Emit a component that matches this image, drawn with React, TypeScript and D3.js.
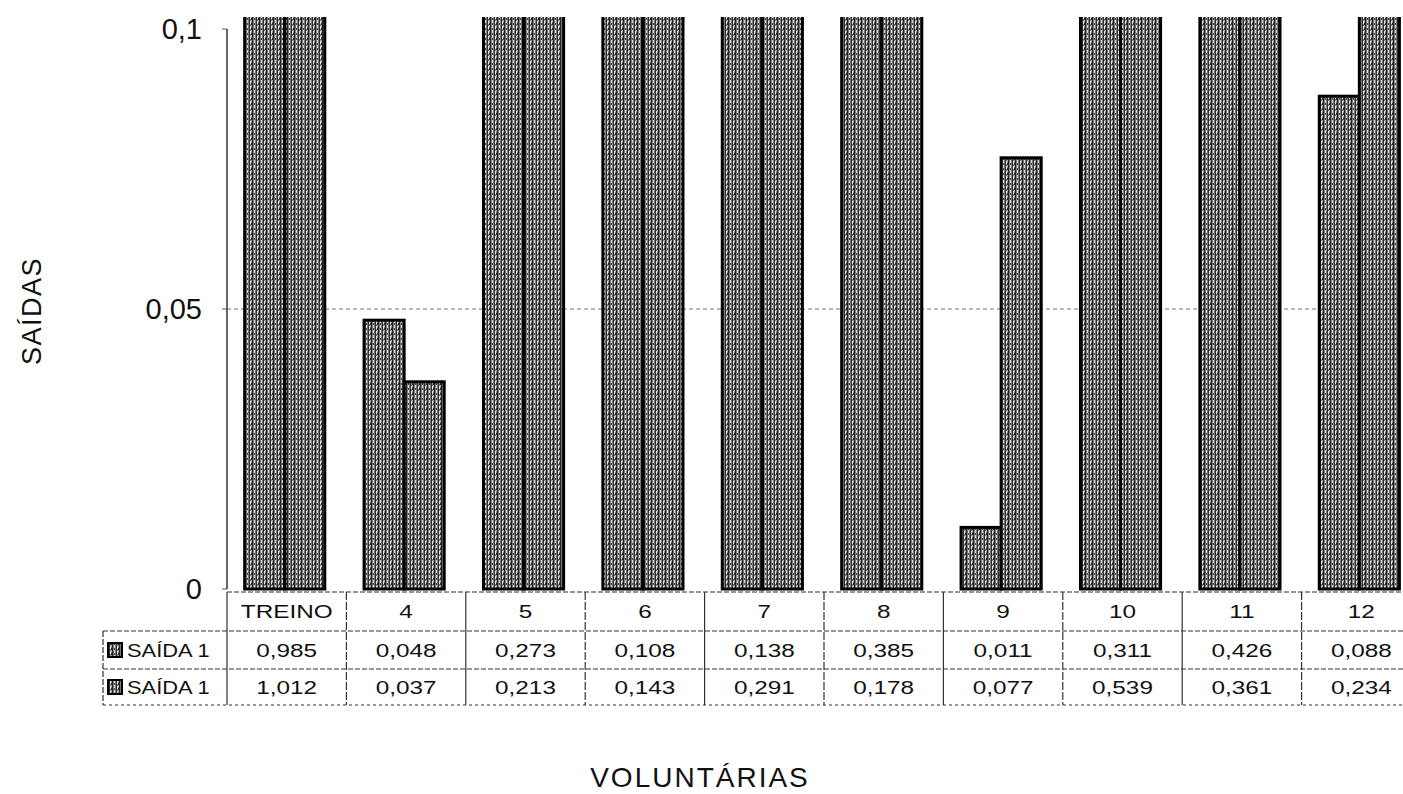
import React from "react";
import * as d3 from "d3";

const categories = ["TREINO", "4", "5", "6", "7", "8", "9", "10", "11", "12"];
const seriesNames = ["SAÍDA 1", "SAÍDA 1"];
const saida1a = [0.985, 0.048, 0.273, 0.108, 0.138, 0.385, 0.011, 0.311, 0.426, 0.088];
const saida1b = [1.012, 0.037, 0.213, 0.143, 0.291, 0.178, 0.077, 0.539, 0.361, 0.234];
const yTicks = [0, 0.05, 0.1];
const yTickLabels = ["0", "0,05", "0,1"];
const tableA = ["0,985", "0,048", "0,273", "0,108", "0,138", "0,385", "0,011", "0,311", "0,426", "0,088"];
const tableB = ["1,012", "0,037", "0,213", "0,143", "0,291", "0,178", "0,077", "0,539", "0,361", "0,234"];

const W = 1403;
const H = 794;
const FONT = "'Liberation Sans', Arial, sans-serif";

export default function App() {
  const x0 = d3.scaleBand<string>().domain(categories).range([227, 1421]).paddingInner(0).paddingOuter(0);
  const x1 = d3
    .scaleBand<string>()
    .domain(["a", "b"])
    .range([0, x0.bandwidth()])
    .paddingInner(0)
    .paddingOuter(0.49)
    .align(0.45);
  const y = d3.scaleLinear().domain([0, 0.1]).range([589, 29]);
  const series = [saida1a, saida1b];
  const keys = ["a", "b"];

  const rowTop = 592;
  const rowH = [39, 38, 36];
  const rowY = [rowTop, rowTop + rowH[0], rowTop + rowH[0] + rowH[1], rowTop + rowH[0] + rowH[1] + rowH[2]];
  const tableLeft = 103;
  const plotLeft = 227;

  const cellText = (txt: string, cx: number, cy: number, key: string, anchor = "middle") => (
    <g key={key} transform={`translate(${cx},${cy}) scale(1.28,1)`}>
      <text x={0} y={0} textAnchor={anchor} dominantBaseline="central" fontSize={19} fontFamily={FONT} fill="#111">
        {txt}
      </text>
    </g>
  );

  return (
    <svg
      width={W}
      height={H}
      viewBox={`0 0 ${W} ${H}`}
      style={{ position: "absolute", left: 0, top: 0, background: "#fff", overflow: "hidden" }}
    >
      <defs>
        <pattern id="dither" width="7" height="5" patternUnits="userSpaceOnUse">
          <rect width="7" height="5" fill="#7a7a7a" />
          <rect x="0" y="0" width="1" height="5" fill="#222" />
          <rect x="2" y="0" width="1" height="3" fill="#dcdcdc" />
          <rect x="2" y="3" width="1" height="2" fill="#444" />
          <rect x="4" y="0" width="1" height="5" fill="#2e2e2e" />
          <rect x="5" y="1" width="1" height="3" fill="#e6e6e6" />
          <rect x="6" y="0" width="1" height="2" fill="#aaa" />
          <rect x="6" y="3" width="1" height="2" fill="#2a2a2a" />
        </pattern>
        <clipPath id="plotClip">
          <rect x={plotLeft} y={17} width={W - plotLeft} height={589 - 17 + 2} />
        </clipPath>
      </defs>

      {/* gridline at 0.05 */}
      <line
        x1={plotLeft}
        x2={W}
        y1={y(0.05)}
        y2={y(0.05)}
        stroke="#777"
        strokeWidth={1}
        strokeDasharray="4,3"
      />

      {/* bars */}
      <g clipPath="url(#plotClip)">
        {categories.map((c, i) =>
          keys.map((k, j) => {
            const v = series[j][i];
            const bx = (x0(c) as number) + (x1(k) as number);
            const top = y(v);
            return (
              <rect
                key={`${c}-${k}`}
                x={bx}
                y={top}
                width={x1.bandwidth()}
                height={y(0) - top}
                fill="url(#dither)"
                stroke="#000"
                strokeWidth={3}
              />
            );
          })
        )}
      </g>

      {/* y axis */}
      <line x1={plotLeft} x2={plotLeft} y1={y(0.1)} y2={y(0)} stroke="#333" strokeWidth={1.5} />
      {yTicks.map((t, i) => (
        <g key={`yt${i}`}>
          <line x1={plotLeft - 5} x2={plotLeft} y1={y(t)} y2={y(t)} stroke="#555" strokeWidth={1} />
          <text
            x={202}
            y={y(t)}
            textAnchor="end"
            dominantBaseline="central"
            fontSize={29}
            fontFamily={FONT}
            fill="#111"
          >
            {yTickLabels[i]}
          </text>
        </g>
      ))}

      {/* y axis title */}
      <text
        transform={`translate(32,311) rotate(-90)`}
        textAnchor="middle"
        dominantBaseline="central"
        fontSize={27}
        fontFamily={FONT}
        letterSpacing={1.5}
        fill="#111"
      >
        SAÍDAS
      </text>

      {/* table grid */}
      <g stroke="#333" strokeWidth={1.2} fill="none">
        <line x1={plotLeft} x2={W} y1={rowY[0]} y2={rowY[0]} strokeDasharray="5,2" />
        <line x1={tableLeft} x2={W} y1={rowY[1]} y2={rowY[1]} strokeDasharray="5,2" />
        <line x1={tableLeft} x2={W} y1={rowY[2]} y2={rowY[2]} strokeDasharray="5,2" />
        <line x1={tableLeft} x2={W} y1={rowY[3]} y2={rowY[3]} strokeDasharray="3,3" />
        <line x1={tableLeft} x2={tableLeft} y1={rowY[1]} y2={rowY[3]} strokeDasharray="6,2" />
        {categories.map((c, i) => (
          <line
            key={`v${i}`}
            x1={x0(c) as number}
            x2={x0(c) as number}
            y1={rowY[0]}
            y2={rowY[3]}
            strokeDasharray={i % 2 === 0 ? "none" : "8,2"}
          />
        ))}
      </g>

      {/* header row */}
      {categories.map((c, i) =>
        cellText(c, (x0(c) as number) + x0.bandwidth() / 2, (rowY[0] + rowY[1]) / 2, `h${i}`)
      )}
      {/* data rows */}
      {categories.map((c, i) =>
        cellText(tableA[i], (x0(c) as number) + x0.bandwidth() / 2, (rowY[1] + rowY[2]) / 2, `a${i}`)
      )}
      {categories.map((c, i) =>
        cellText(tableB[i], (x0(c) as number) + x0.bandwidth() / 2, (rowY[2] + rowY[3]) / 2, `b${i}`)
      )}

      {/* legend keys + labels */}
      {seriesNames.map((s, j) => {
        const cy = (rowY[j + 1] + rowY[j + 2]) / 2;
        return (
          <g key={`lg${j}`}>
            <rect x={108} y={cy - 7} width={14} height={14} fill="url(#dither)" stroke="#000" strokeWidth={2} />
            <g transform={`translate(127,${cy}) scale(1.15,1)`}>
              <text x={0} y={0} dominantBaseline="central" fontSize={19} fontFamily={FONT} fill="#111">
                {s}
              </text>
            </g>
          </g>
        );
      })}

      {/* x axis title */}
      <text
        x={700}
        y={777}
        textAnchor="middle"
        dominantBaseline="central"
        fontSize={28}
        fontFamily={FONT}
        letterSpacing={2}
        fill="#111"
      >
        VOLUNTÁRIAS
      </text>
    </svg>
  );
}
